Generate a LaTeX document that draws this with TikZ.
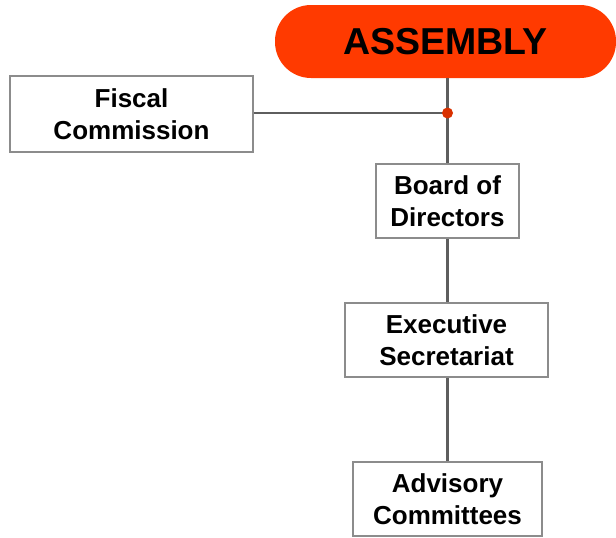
\documentclass[tikz,border=0pt]{standalone}
\usepackage{fontspec}
\setmainfont{Liberation Sans}
\definecolor{asmred}{HTML}{FF3A00}
\definecolor{linegray}{HTML}{5E5E5E}
\definecolor{boxgray}{HTML}{8C8C8C}
\begin{document}
\begin{tikzpicture}[x=1pt,y=-1pt,
  box/.style={draw=boxgray,line width=1.5pt,fill=white,align=center,inner sep=0pt,
    font=\fontsize{26}{32}\selectfont\bfseries},
  conn/.style={draw=linegray,line width=2.2pt}]
\useasboundingbox (0,0) rectangle (616,538);
\node[fill=asmred,rounded corners=36pt,minimum width=341pt,minimum height=73pt,inner sep=0pt,
  font=\fontsize{37.5}{40}\selectfont\bfseries] (asm) at (445.5,41.5) {ASSEMBLY};
\node[box,minimum width=243pt,minimum height=76pt] (fis) at (131.5,114) {Fiscal\\Commission};
\node[box,minimum width=143pt,minimum height=74pt] (bod) at (447.5,201) {Board of\\Directors};
\node[box,minimum width=203pt,minimum height=74pt] (exe) at (446.5,340) {Executive\\Secretariat};
\node[box,minimum width=189pt,minimum height=74pt] (adv) at (447.5,499) {Advisory\\Committees};
\coordinate (j) at (447.5,113);
\draw[conn] (asm.south -| j) -- (j) -- (bod.north -| j);
\draw[conn] (fis.east |- j) -- (j);
\draw[conn] (bod.south -| j) -- (exe.north -| j);
\draw[conn] (exe.south -| j) -- (adv.north -| j);
\fill[asmred!85!black] (j) circle (5.5pt);
\end{tikzpicture}
\end{document}
